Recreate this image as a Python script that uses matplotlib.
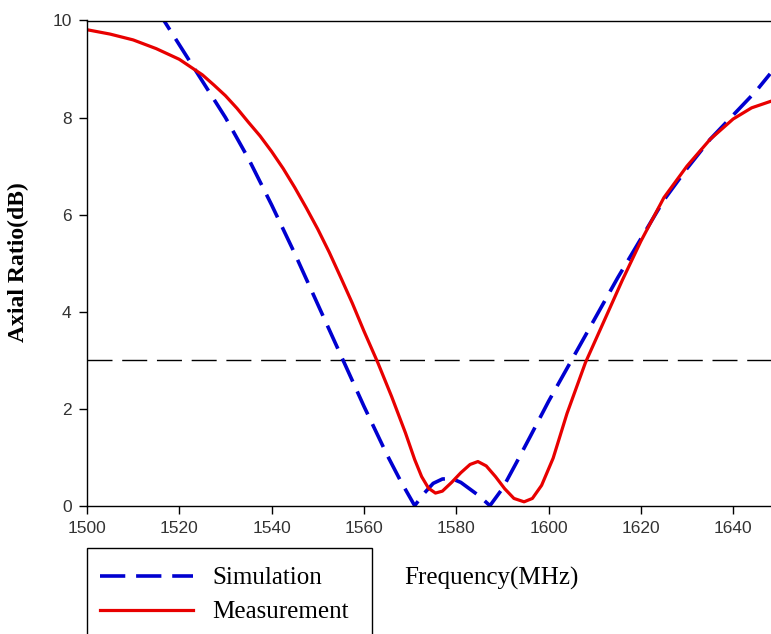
import matplotlib
matplotlib.use("Agg")
import matplotlib.pyplot as plt
from matplotlib.patches import Rectangle

# Axial ratio vs frequency: simulated and measured
sim_freq = [1515, 1520, 1525, 1530, 1535, 1540, 1545, 1550, 1555, 1560,
            1565, 1568, 1571, 1573, 1575, 1577, 1579, 1581, 1583, 1585,
            1587.3, 1590, 1593, 1596, 1600, 1605, 1610, 1615, 1620, 1625,
            1630, 1635, 1640, 1645, 1648]
sim_ar = [10.25, 9.5, 8.75, 8.0, 7.15, 6.2, 5.2, 4.15, 3.1, 2.05,
          1.05, 0.5, 0.0, 0.25, 0.46, 0.55, 0.56, 0.48, 0.34, 0.2,
          0.0, 0.35, 0.88, 1.42, 2.15, 3.0, 3.85, 4.7, 5.5, 6.3,
          6.95, 7.55, 8.05, 8.55, 8.9]

meas_freq = [1500, 1505, 1510, 1515, 1520, 1525, 1527.5, 1530, 1532.5, 1535,
             1537.5, 1540, 1542.5, 1545, 1547.5, 1550, 1552.5, 1555, 1557.5,
             1560, 1563, 1566, 1569, 1571, 1572.5, 1574, 1575.5, 1577,
             1579, 1581, 1583, 1584.7, 1586.5, 1588.5, 1590.5, 1592.5, 1594.7,
             1596.5, 1598.5, 1601, 1604, 1608, 1612, 1616, 1620, 1625, 1630,
             1635, 1640, 1644, 1648]
meas_ar = [9.81, 9.72, 9.6, 9.42, 9.2, 8.88, 8.67, 8.45, 8.19, 7.9,
           7.62, 7.3, 6.95, 6.56, 6.14, 5.7, 5.22, 4.7, 4.17,
           3.6, 2.95, 2.25, 1.5, 0.95, 0.6, 0.36, 0.26, 0.3,
           0.48, 0.68, 0.85, 0.91, 0.82, 0.6, 0.35, 0.15, 0.08,
           0.15, 0.42, 0.98, 1.9, 2.95, 3.8, 4.65, 5.45, 6.35, 7.0,
           7.55, 7.97, 8.2, 8.33]

ar_limit = 3  # 3 dB axial ratio bandwidth line

x_ticks = [1500, 1520, 1540, 1560, 1580, 1600, 1620, 1640]
y_ticks = [0, 2, 4, 6, 8, 10]

serif = "Liberation Serif"

fig = plt.figure(figsize=(7.71, 6.34), dpi=100)
ax = fig.add_axes([87 / 771, 128.3 / 634, 1 - 87 / 771, 485.2 / 634])

ax.axhline(ar_limit, color="black", lw=1.0, dashes=(18, 7))
sim_line, = ax.plot(sim_freq, sim_ar, color="#0000d0", lw=2.6, dashes=(7, 3),
                    label="Simulation")
meas_line, = ax.plot(meas_freq, meas_ar, color="#e80000", lw=2.3,
                     label="Measurement")

ax.set_xlim(1500, 1648.2)
ax.set_ylim(0, 10)
ax.set_xticks(x_ticks)
ax.set_yticks(y_ticks)
ax.tick_params(direction="out", length=6, width=1, pad=5,
               labelsize=12.5, labelcolor="#333333")
for lab in ax.get_xticklabels() + ax.get_yticklabels():
    lab.set_fontfamily("Liberation Sans")
ax.spines["right"].set_visible(False)
for s in ("left", "top", "bottom"):
    ax.spines[s].set_linewidth(1.0)

fig.text(18 / 771, 1 - 262 / 634, "Axial Ratio(dB)", rotation=90,
         ha="center", va="center", fontsize=17, fontweight="bold",
         family=serif)
fig.text(404 / 771, 1 - 578 / 634, "Frequency(MHz)", ha="left",
         va="center", fontsize=18, family=serif)

# legend box runs off the bottom of the figure
fig.patches.append(Rectangle((87 / 771, -0.05), (372 - 87) / 771,
                             (634 - 548) / 634 + 0.05,
                             transform=fig.transFigure, fill=False,
                             lw=1.0, edgecolor="black"))
fig.legend(handles=[sim_line, meas_line], loc="upper left",
           bbox_to_anchor=(100 / 771, 1 - 567 / 634), frameon=False,
           borderpad=0, borderaxespad=0, handlelength=3.7,
           handletextpad=0.8, labelspacing=0.45,
           prop={"family": serif, "size": 18})

fig.savefig("out.png", dpi=100)
